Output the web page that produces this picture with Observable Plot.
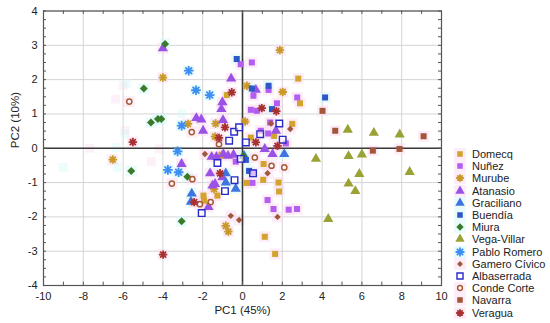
<!DOCTYPE html>
<html><head><meta charset="utf-8">
<script src="https://cdn.jsdelivr.net/npm/d3@7"></script>
<script src="https://cdn.jsdelivr.net/npm/@observablehq/plot@0.6"></script>
<style>
body{margin:0;background:#fff;font-family:"Liberation Sans",Arial,sans-serif;}
#wrap{position:relative;width:550px;height:323px;overflow:hidden;}
#legend{position:absolute;left:453px;top:148px;}
.item{height:12.2px;display:flex;align-items:center;font-size:11px;color:#222;white-space:nowrap;}
.item svg{margin-right:5px;}
</style></head><body><div id="wrap"><div id="chart"></div><div id="legend"></div></div>
<script>
// ---- data (PC1, PC2) ----
const domecq = [[2.80,2.03],[2.89,1.31],[2.50,0.71],[1.59,0.36],[0.42,0.31],[1.06,-0.46],[1.04,-0.92],[0.20,-1.01],[1.81,-1.00],[1.84,-1.26],[1.12,-2.58],[1.64,-3.08],[-0.79,1.55],[-1.26,-1.38],[-1.96,-1.38],[-1.93,-1.53]];
const nunez = [[-0.09,2.45],[0.47,2.50],[1.31,1.70],[0.55,1.53],[2.75,1.48],[1.73,1.31],[0.42,1.12],[0.72,1.09],[1.39,0.75],[0.92,0.51],[1.29,0.43],[2.18,0.14],[0.50,-1.01],[1.26,-1.51],[1.56,-1.77],[2.32,-1.79],[2.74,-1.77],[-0.34,-0.39],[0.50,-0.72]];
const murube = [[-4.00,2.06],[1.88,2.86],[0.22,1.82],[2.02,1.64],[-6.52,-0.33],[-2.74,0.71],[-1.35,0.72],[-1.38,0.34],[0.13,0.78],[-1.04,-0.19],[-1.43,-1.19],[-0.84,-2.26],[-0.71,-2.43]];
const atanasio = [[-4.00,2.91],[-0.57,2.03],[-1.01,1.34],[-1.06,1.14],[-2.32,0.88],[-2.07,0.84],[-1.98,0.51],[-0.98,0.82],[0.67,1.70],[1.68,0.51],[1.12,-0.02],[1.51,-0.17],[-3.06,-0.46],[-1.55,-0.25],[-1.31,-0.25],[-0.96,-0.17],[-0.73,-0.22],[-0.45,-0.19],[-1.63,-0.73],[-1.01,-0.85],[-1.51,-1.09],[-1.38,-1.04],[-1.71,-1.71]];
const graciliano = [[-2.55,-1.32],[-2.59,-1.56],[2.10,-0.17],[-0.84,-0.73],[-0.84,-1.00],[0.08,-0.22],[-0.34,-1.18]];
const buendia = [[-0.29,2.60],[1.31,1.82],[0.47,1.74],[4.15,1.48],[1.48,1.14],[0.17,-0.34],[0.33,-0.66]];
const miura = [[-3.89,3.04],[-4.96,1.74],[-4.60,0.75],[-4.25,0.85],[-4.08,0.85],[-5.59,-0.66],[-2.77,-0.83],[-3.06,-2.13],[0.04,-0.22]];
const vegaVillar = [[5.29,0.54],[3.69,-0.31],[5.33,-0.23],[6.00,-0.18],[5.87,-0.75],[5.33,-1.03],[5.67,-1.25],[4.31,-2.06],[6.6,0.45],[7.9,0.4],[8.4,-0.69]];
const pabloRomero = [[-2.70,2.26],[-2.34,1.69],[-1.65,1.55],[-3.06,0.66],[-3.26,-0.09],[-3.75,-0.63],[-3.21,-0.70]];
const gameroCivico = [[-1.89,-0.17],[2.40,0.56],[1.26,-0.73],[1.76,-2.00],[-0.59,-1.97],[-0.17,-2.09],[1.43,0.72]];
const albaserrada = [[-0.42,0.48],[-0.17,0.61],[1.85,0.72],[0.89,0.41],[2.02,0.25],[-0.67,0.22],[0.17,0.17],[-0.09,-0.31],[0.53,-0.73],[-1.26,-0.43],[-0.40,-0.93],[-0.88,-1.25],[-2.05,-1.89]];
const condeCorte = [[-5.69,1.36],[-2.55,0.47],[-2.52,-0.90],[-3.55,-1.03],[0.62,-0.27],[2.10,-0.56],[1.46,-0.51],[-1.18,0.12],[-2.14,-1.63],[-1.60,-1.57]];
const navarra = [[4.02,1.09],[4.66,0.51],[6.55,-0.07],[7.89,-0.02],[9.1,0.35]];
const veragua = [[-5.51,0.18],[-3.99,-3.10],[-0.54,1.63],[-0.88,0.61],[0.97,1.17],[1.70,1.08],[1.76,0.07],[-1.18,0.30],[-1.13,-0.73],[-2.43,-1.57],[0.67,0.17]];
const ghostPink = [[-6.0,1.82],[-6.38,1.43],[-7.68,0.0],[-4.2,-0.02],[-4.58,-0.39],[-5.9,0.52]];
const ghostCyan = [[-5.84,1.89],[-5.91,0.41],[-6.35,0.02],[-9.02,-0.56],[-3.06,1.0],[-6.3,-0.55]];
const xTicks = [-10,-8,-6,-4,-2,0,2,4,6,8,10];
const yTicks = [-4,-3,-2,-1,0,1,2,3,4];
const xLabel = "PC1 (45%)";
const yLabel = "PC2 (10%)";

// ---- symbols ----
const asterisk8 = {draw(ctx, size){const r=Math.sqrt(size/Math.PI);for(let k=0;k<4;k++){const a=k*Math.PI/4;ctx.moveTo(-r*Math.cos(a),-r*Math.sin(a));ctx.lineTo(r*Math.cos(a),r*Math.sin(a));}}};
const PINK="#fbdcf1", CYAN="#d3f7f7";
const series = [
 {name:"Domecq", data:domecq, symbol:"square", r:3.4, fill:"#D2A42E", halo:PINK},
 {name:"Nuñez", data:nunez, symbol:"square", r:3.4, fill:"#B35EF0", halo:PINK},
 {name:"Murube", data:murube, symbol:asterisk8, r:4.2, stroke:"#C99A2A", sw:1.8, halo:PINK},
 {name:"Atanasio", data:atanasio, symbol:"triangle", r:3.8, fill:"#9A52E6", halo:PINK},
 {name:"Graciliano", data:graciliano, symbol:"triangle", r:3.8, fill:"#3F74E0", halo:CYAN},
 {name:"Buendía", data:buendia, symbol:"square", r:3.4, fill:"#2F57C8", halo:CYAN},
 {name:"Miura", data:miura, symbol:"diamond2", r:3.6, fill:"#3A7A2A", halo:CYAN},
 {name:"Vega-Villar", data:vegaVillar, symbol:"triangle", r:3.8, fill:"#9AA236", halo:null},
 {name:"Pablo Romero", data:pabloRomero, symbol:asterisk8, r:4.8, stroke:"#3C8EF2", sw:1.8, halo:CYAN},
 {name:"Gamero Cívico", data:gameroCivico, symbol:"diamond2", r:2.9, fill:"#A0573A", halo:PINK},
 {name:"Albaserrada", data:albaserrada, symbol:"square", r:3.7, stroke:"#2A2AC8", sw:1.4, halo:null},
 {name:"Conde Corte", data:condeCorte, symbol:"circle", r:2.6, stroke:"#A85A35", sw:1.5, halo:PINK},
 {name:"Navarra", data:navarra, symbol:"square", r:3.4, fill:"#A5553A", halo:PINK},
 {name:"Veragua", data:veragua, symbol:asterisk8, r:4.2, stroke:"#A83030", sw:1.8, halo:PINK}
];

const marks = [
 Plot.gridX(xTicks, {stroke:"#d4d4d4", strokeOpacity:1}),
 Plot.gridY(yTicks, {stroke:"#d4d4d4", strokeOpacity:1}),
 Plot.dot(ghostPink, {x:d=>d[0], y:d=>d[1], symbol:"square", r:5, fill:PINK, fillOpacity:0.4}),
 Plot.dot(ghostCyan, {x:d=>d[0], y:d=>d[1], symbol:"square", r:5, fill:CYAN, fillOpacity:0.4}),
];
for (const s of series) if (s.halo) marks.push(Plot.dot(s.data, {x:d=>d[0], y:d=>d[1], symbol:"square", r:6.2, fill:s.halo, fillOpacity:0.5}));
marks.push(Plot.ruleX([0], {stroke:"#3a3a3a", strokeWidth:1.6}));
marks.push(Plot.ruleY([0], {stroke:"#3a3a3a", strokeWidth:1.6}));
for (const s of series) {
  const o = {x:d=>d[0], y:d=>d[1], symbol:s.symbol, r:s.r};
  if (s.fill) { o.fill = s.fill; o.stroke = "none"; }
  else { o.fill = s.symbol === "circle" || s.symbol === "square" ? "white" : "none"; o.fillOpacity = 0.6; o.stroke = s.stroke; o.strokeWidth = s.sw; }
  marks.push(Plot.dot(s.data, o));
}
// minor inward ticks
const xMinor = d3.range(-10, 10.01, 1), yMinor = d3.range(-4, 4.001, 0.25);
marks.push(Plot.ruleX(xMinor, {y1:-4, y2:-3.9, stroke:"#555"}));
marks.push(Plot.ruleX(xMinor, {y1:4, y2:3.9, stroke:"#555"}));
marks.push(Plot.ruleY(yMinor, {x1:-10, x2:-9.85, stroke:"#555"}));
marks.push(Plot.ruleY(yMinor, {x1:10, x2:9.85, stroke:"#555"}));
marks.push(Plot.frame({stroke:"#555", strokeWidth:1.2}));
marks.push(Plot.axisX({ticks:xTicks, tickSize:0, tickPadding:7, label:null, tickFormat:d=>String(d)}));
marks.push(Plot.axisY({ticks:yTicks, tickSize:0, tickPadding:6, label:null, tickFormat:d=>String(d)}));
marks.push(Plot.text([xLabel], {frameAnchor:"bottom", dy:28, text:d=>d, fontSize:11.5}));
marks.push(Plot.text([yLabel], {frameAnchor:"left", dx:-28, rotate:-90, text:d=>d, fontSize:11.5}));

const chart = Plot.plot({
  width:550, height:323,
  marginLeft:43, marginRight:109, marginTop:10.5, marginBottom:38,
  x:{domain:[-10,10]}, y:{domain:[-4,4]},
  style:{fontSize:"11px", fontFamily:"'Liberation Sans', Arial, sans-serif", color:"#222", background:"white"},
  marks
});
document.getElementById("chart").appendChild(chart);

// legend
const leg = d3.select("#legend");
for (const s of series) {
  const it = leg.append("div").attr("class","item");
  const sv = it.append("svg").attr("width",14).attr("height",12);
  if (s.halo) sv.append("rect").attr("x",1).attr("y",0).attr("width",12).attr("height",12).attr("fill",s.halo).attr("fill-opacity",0.5);
  const type = s.symbol==="square"?d3.symbolSquare:s.symbol==="triangle"?d3.symbolTriangle:s.symbol==="diamond2"?d3.symbolDiamond2:s.symbol==="circle"?d3.symbolCircle:s.symbol;
  const p = sv.append("path").attr("transform","translate(7,6)").attr("d", d3.symbol(type, Math.PI*s.r*s.r*0.85)());
  if (s.fill) p.attr("fill", s.fill);
  else p.attr("fill", (s.symbol==="circle"||s.symbol==="square")?"white":"none").attr("stroke", s.stroke).attr("stroke-width", s.sw);
  it.append("span").text(s.name);
}
</script></body></html>
